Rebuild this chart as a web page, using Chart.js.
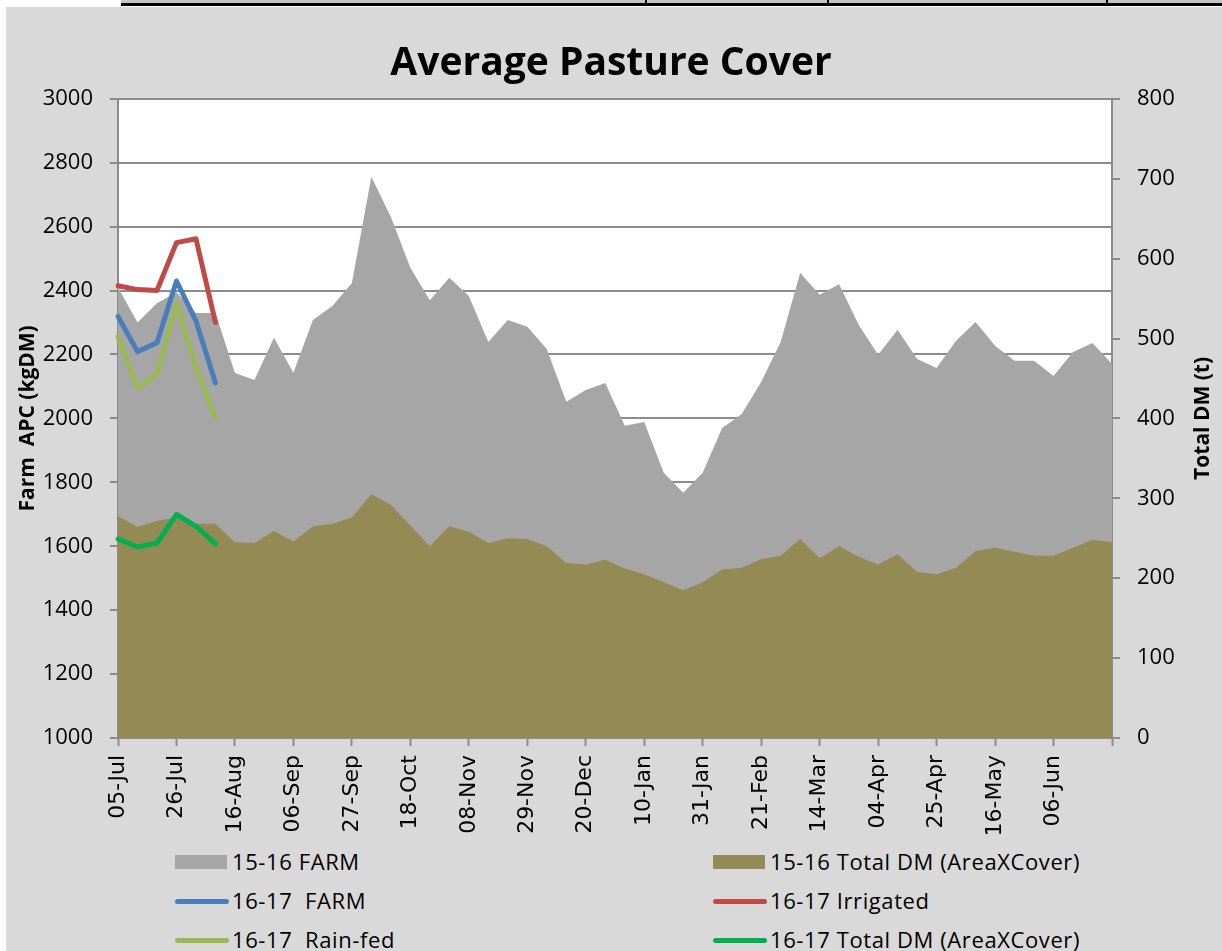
<!DOCTYPE html>
<html>
<head>
<meta charset="utf-8">
<script src="https://cdn.jsdelivr.net/npm/chart.js@4"></script>
<style>
  body { margin: 0; background: #fff; width: 1222px; height: 951px; overflow: hidden; position: relative; }
  #panel { position: absolute; left: 6px; top: 7px; width: 1216px; height: 944px; background: #d9d9d9; }
  .rule { position: absolute; background: #000; }
  #wrap { position: absolute; left: 0; top: 0; width: 1222px; height: 840px; }
  .leg { position: absolute; font-family: "Open Sans", sans-serif; font-size: 22px; letter-spacing: 0.6px; color: #000; line-height: 26px; white-space: pre; }
  .sw { position: absolute; }
</style>
</head>
<body>
<div id="panel"></div>
<div class="rule" style="left:121px;top:0;width:1101px;height:3px;background:#c4c4c4"></div>
<div class="rule" style="left:121px;top:3px;width:1101px;height:3px"></div>
<div class="rule" style="left:645px;top:0;width:2px;height:6px"></div>
<div class="rule" style="left:827px;top:0;width:2px;height:6px"></div>
<div class="rule" style="left:1106px;top:0;width:2px;height:6px"></div>
<div id="wrap"><canvas id="myChart" width="1222" height="840"></canvas></div>
<div id="legend"></div>
<script>
let weeks = ["05-Jul","12-Jul","19-Jul","26-Jul","02-Aug","09-Aug","16-Aug","23-Aug","30-Aug",
	"06-Sep","13-Sep","20-Sep","27-Sep","04-Oct","11-Oct","18-Oct","25-Oct","01-Nov","08-Nov",
	"15-Nov","22-Nov","29-Nov","06-Dec","13-Dec","20-Dec","27-Dec","03-Jan","10-Jan","17-Jan",
	"24-Jan","31-Jan","07-Feb","14-Feb","21-Feb","28-Feb","07-Mar","14-Mar","21-Mar","28-Mar",
	"04-Apr","11-Apr","18-Apr","25-Apr","02-May","09-May","16-May","23-May","30-May","06-Jun",
	"13-Jun","20-Jun","27-Jun"];

// 15-16 season (kgDM/ha and tonnes)
let farm1516 = [2410,2300,2360,2395,2330,2330,2142,2120,2252,2143,2308,2352,2424,2756,2630,2471,
	2370,2440,2383,2239,2308,2287,2217,2052,2089,2111,1977,1989,1830,1767,1830,1970,2014,2114,
	2239,2455,2387,2420,2293,2199,2277,2186,2158,2243,2302,2227,2180,2180,2133,2208,2236,2170];
let dm1516 = [278,264,272,276,268,268,245,244,259,246,265,268,276,305,292,266,240,265,258,244,
	250,249,240,219,217,223,212,205,195,185,195,211,213,224,228,249,225,240,227,217,230,208,
	205,213,234,238,233,228,228,238,248,245];

// 16-17 season so far
let farm1617 = [2319,2209,2237,2430,2305,2111];
let irr1617 = [2415,2403,2400,2550,2562,2300];
let rain1617 = [2256,2095,2139,2361,2158,2002];
let dm1617 = [249,239,244,280,265,243];

let leftTicks = [1000, 3000, 200];
let rightTicks = [0, 800, 100];

let legendItems = [
	{label:"15-16 FARM", color:"#a6a6a6", box:true, x:175, y:862},
	{label:"15-16 Total DM (AreaXCover)", color:"#948a54", box:true, x:713, y:862},
	{label:"16-17  FARM", color:"#4a7ebb", box:false, x:175, y:901},
	{label:"16-17 Irrigated", color:"#be4b48", box:false, x:713, y:901},
	{label:"16-17  Rain-fed", color:"#98b954", box:false, x:175, y:940},
	{label:"16-17 Total DM (AreaXCover)", color:"#00b050", box:false, x:713, y:940}
];

let tickFont = { family: "Open Sans", size: 22 };
let axisLine = "#8c8c8c";

// white plot area + right axis title read bottom-to-top like the original
let plotBg = {
	id: "plotBg",
	beforeDraw(c){
		let a = c.chartArea, ctx = c.ctx;
		ctx.save();
		ctx.fillStyle = "#fff";
		ctx.fillRect(a.left, a.top, a.right - a.left, a.bottom - a.top);
		ctx.restore();
	},
	afterDraw(c){
		let a = c.chartArea, ctx = c.ctx;
		ctx.save();
		ctx.translate(1203, (a.top + a.bottom) / 2);
		ctx.rotate(-Math.PI / 2);
		ctx.font = "bold 21px 'Open Sans'";
		ctx.fillStyle = "#000";
		ctx.textAlign = "center";
		ctx.textBaseline = "middle";
		ctx.fillText("Total DM (t)", 0, 0);
		ctx.restore();
	}
};

function lineSet(label, data, color, axis, order){
	return {
		type: "line", label: label, data: data, yAxisID: axis, order: order,
		borderColor: color, borderWidth: 5, pointRadius: 0, fill: false,
		tension: 0, borderCapStyle: "round", borderJoinStyle: "round"
	};
}

let chart = new Chart("myChart", {
	type: "line",
	plugins: [plotBg],
	data: {
		labels: weeks,
		datasets: [
			{ label: "15-16 FARM", data: farm1516, yAxisID: "y", order: 10,
			  borderWidth: 0, borderColor: "#a6a6a6", backgroundColor: "#a6a6a6",
			  pointRadius: 0, fill: "start", tension: 0 },
			{ label: "15-16 Total DM (AreaXCover)", data: dm1516, yAxisID: "y2", order: 9,
			  borderWidth: 0, borderColor: "#948a54", backgroundColor: "#948a54",
			  pointRadius: 0, fill: "start", tension: 0 },
			lineSet("16-17  FARM", farm1617, "#4a7ebb", "y", 3),
			lineSet("16-17 Irrigated", irr1617, "#be4b48", "y", 2),
			lineSet("16-17  Rain-fed", rain1617, "#98b954", "y", 4),
			lineSet("16-17 Total DM (AreaXCover)", dm1617, "#00b050", "y2", 1)
		]
	},
	options: {
		responsive: false,
		animation: false,
		layout: { padding: 0 },
		plugins: {
			legend: { display: false },
			tooltip: { enabled: false },
			title: {
				display: true, text: "Average Pasture Cover", color: "#000",
				font: { family: "Open Sans", size: 39, weight: "bold", lineHeight: 1.2 },
				padding: { top: 40, bottom: 12 }
			}
		},
		scales: {
			x: {
				offset: false,
				afterFit: s => { s.height = 102; },
				border: { color: axisLine, width: 2 },
				grid: {
					drawOnChartArea: false, drawTicks: true, tickLength: 8,
					tickColor: c => (c.index % 3 === 0 ? axisLine : "rgba(0,0,0,0)"), tickWidth: 2
				},
				ticks: {
					autoSkip: false, maxRotation: 90, minRotation: 90, padding: 9, color: "#000",
					font: { family: "DejaVu Sans", size: 22 },
					callback: (v, i) => (i % 3 === 0 && i < weeks.length - 1 ? weeks[i] : "")
				}
			},
			y: {
				position: "left",
				min: leftTicks[0], max: leftTicks[1],
				afterFit: s => { s.width = 118; },
				border: { color: axisLine, width: 2 },
				grid: { color: axisLine, lineWidth: 2, tickLength: 8 },
				ticks: { stepSize: leftTicks[2], padding: 17, color: "#000", font: tickFont,
					callback: v => String(v) },
				title: {
					display: true, text: "Farm  APC (kgDM)", color: "#000",
					font: { family: "Open Sans", size: 21, weight: "bold", lineHeight: 1.2 },
					padding: { top: 15, bottom: 0 }
				}
			},
			y2: {
				position: "right",
				min: rightTicks[0], max: rightTicks[1],
				afterFit: s => { s.width = 110; },
				border: { color: axisLine, width: 2 },
				grid: { drawOnChartArea: false, color: axisLine, lineWidth: 2, tickLength: 8 },
				ticks: { stepSize: rightTicks[2], padding: 17, color: "#000", font: tickFont,
					callback: v => String(v) }
			}
		}
	}
});

// two-column legend like the original
let leg = document.getElementById("legend");
legendItems.forEach(item => {
	let sw = document.createElement("div");
	sw.className = "sw";
	if(item.box){
		sw.style.cssText = "left:"+item.x+"px;top:"+(item.y-7)+"px;width:52px;height:14px;background:"+item.color;
	}else{
		sw.style.cssText = "left:"+item.x+"px;top:"+(item.y-2)+"px;width:54px;height:5px;border-radius:3px;background:"+item.color;
	}
	leg.appendChild(sw);
	let t = document.createElement("div");
	t.className = "leg";
	t.style.left = (item.x + 57) + "px";
	t.style.top = (item.y - 14) + "px";
	t.textContent = item.label;
	leg.appendChild(t);
});
</script>
</body>
</html>
